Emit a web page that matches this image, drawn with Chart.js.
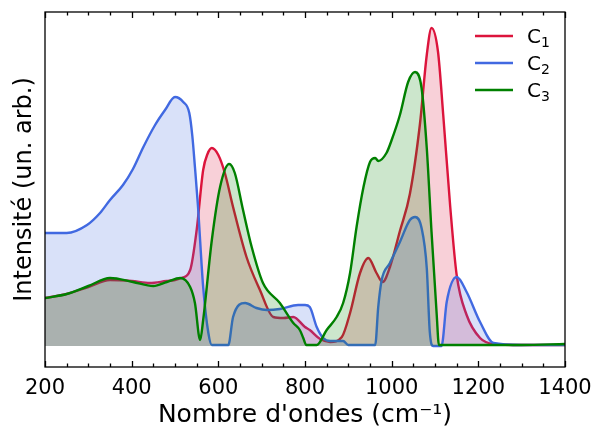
<!DOCTYPE html>
<html>
<head>
<meta charset="utf-8">
<script src="https://cdn.jsdelivr.net/npm/chart.js@4"></script>
<style>
  html, body { margin: 0; padding: 0; background: #fff; }
  #wrap { width: 594px; height: 430px; }
</style>
</head>
<body>
<div id="wrap"><canvas id="spectre"></canvas></div>
<script>
// valeurs (intensité en unités arbitraires)
const c1X = [200, 250, 300, 350, 400, 442, 480, 500, 515, 535, 550, 565, 575, 585, 600, 615, 634, 665, 696, 727, 750, 773, 800, 811, 835, 858, 885, 904, 927, 946, 965, 979, 996, 1019, 1042, 1065, 1081, 1092, 1107, 1119, 1135, 1150, 1173, 1204, 1235, 1300, 1400];
const c1Y = [48, 52, 59, 66, 65, 63, 65, 66, 68, 76, 116, 176, 192, 198, 191, 173, 139, 89, 56, 29, 28, 29, 19, 16, 7, 4, 9, 33, 73, 88, 73, 64, 79, 115, 152, 221, 291, 318, 294, 231, 140, 71, 31, 8, 2, 1, 1];

const c2X = [200, 250, 297, 327, 350, 380, 403, 427, 454, 477, 500, 519, 533, 540, 546, 553, 565, 577, 585, 623, 634, 662, 688, 712, 742, 784, 800, 811, 827, 842, 858, 888, 900, 962, 969, 977, 996, 1019, 1042, 1054, 1069, 1081, 1088, 1096, 1115, 1127, 1150, 1173, 1204, 1235, 1300, 1400];
const c2Y = [113, 113, 121, 133, 146, 161, 177, 199, 221, 236, 249, 244, 233, 210, 179, 140, 59, 13, 1, 1, 29, 43, 38, 36, 37, 41, 41, 39, 19, 8, 5, 5, 1, 1, 39, 66, 83, 104, 126, 129, 118, 78, 14, 0, 0, 44, 69, 54, 24, 3, 1, 1];

const c3X = [200, 250, 300, 350, 403, 450, 481, 512, 535, 546, 558, 565, 585, 604, 625, 638, 657, 677, 703, 742, 773, 788, 796, 803, 827, 850, 873, 888, 904, 919, 935, 950, 962, 969, 988, 1000, 1019, 1038, 1054, 1069, 1081, 1092, 1104, 1109, 1200, 1300, 1400];
const c3Y = [48, 52, 60, 68, 64, 60, 64, 68, 59, 43, 6, 26, 106, 159, 182, 173, 136, 99, 63, 43, 23, 16, 8, 1, 1, 16, 29, 43, 73, 119, 159, 184, 188, 185, 193, 206, 231, 264, 274, 258, 198, 114, 31, 1, 1, 1, 2];

const xTicks = [200, 400, 600, 800, 1000, 1200, 1400];
const seriesNames = ["C1", "C2", "C3"];

function points(xs, ys) {
  return xs.map((x, i) => ({ x: x, y: ys[i] }));
}

// cadre, graduations vers l'intérieur et légende façon matplotlib
const cadre = {
  id: "cadre",
  afterDraw(chart) {
    const ctx = chart.ctx;
    const a = chart.chartArea;
    const sx = chart.scales.x;
    ctx.save();
    ctx.strokeStyle = "#000";
    ctx.lineWidth = 1.3;
    for (let v = 200; v <= 1400; v += 50) {
      const px = Math.round(sx.getPixelForValue(v)) + 0.5;
      const len = v % 200 === 0 ? 6 : 3.5;
      ctx.beginPath();
      ctx.moveTo(px, a.bottom);
      ctx.lineTo(px, a.bottom - len);
      ctx.moveTo(px, a.top);
      ctx.lineTo(px, a.top + len);
      ctx.stroke();
    }
    ctx.strokeRect(a.left, a.top, a.right - a.left, a.bottom - a.top);

    chart.data.datasets.forEach((ds, i) => {
      const y = a.top + 24 + i * 27;
      ctx.strokeStyle = ds.borderColor;
      ctx.lineWidth = 2.4;
      ctx.beginPath();
      ctx.moveTo(a.right - 90, y);
      ctx.lineTo(a.right - 52, y);
      ctx.stroke();
      ctx.fillStyle = "#000";
      ctx.textBaseline = "alphabetic";
      ctx.font = "20px 'DejaVu Sans'";
      ctx.fillText("C", a.right - 38, y + 7);
      const w = ctx.measureText("C").width;
      ctx.font = "14px 'DejaVu Sans'";
      ctx.fillText(seriesNames[i].slice(1), a.right - 38 + w, y + 11);
    });
    ctx.restore();
  }
};

const spectre = new Chart(document.getElementById("spectre"), {
  type: "line",
  data: {
    datasets: [
      {
        label: "C₁",
        data: points(c1X, c1Y),
        borderColor: "#dc143c",
        backgroundColor: "rgba(220, 20, 60, 0.2)",
        fill: "origin",
        order: 3,
      },
      {
        label: "C₂",
        data: points(c2X, c2Y),
        borderColor: "#4169e1",
        backgroundColor: "rgba(65, 105, 225, 0.2)",
        fill: "origin",
        order: 2,
      },
      {
        label: "C₃",
        data: points(c3X, c3Y),
        borderColor: "#008000",
        backgroundColor: "rgba(0, 128, 0, 0.2)",
        fill: "origin",
        order: 1,
      },
    ],
  },
  options: {
    responsive: true,
    maintainAspectRatio: false,
    animation: false,
    layout: { padding: { top: 12, right: 29, left: 0, bottom: 0 } },
    elements: {
      point: { radius: 0 },
      line: { borderWidth: 2.4, cubicInterpolationMode: "monotone" },
    },
    plugins: {
      legend: { display: false },
      tooltip: { enabled: false },
    },
    scales: {
      x: {
        type: "linear",
        min: 200,
        max: 1400,
        afterBuildTicks: (s) => { s.ticks = xTicks.map((v) => ({ value: v })); },
        afterFit: (s) => { s.height = 63; s.paddingLeft = 0; s.paddingRight = 0; },
        grid: { display: false, drawTicks: false },
        border: { display: false },
        ticks: {
          color: "#000",
          padding: 9,
          maxRotation: 0,
          callback: (v) => String(v),
          font: { family: "'DejaVu Sans'", size: 21 },
        },
        title: {
          display: true,
          text: "Nombre d'ondes (cm⁻¹)",
          color: "#000",
          padding: { top: 0, bottom: 0 },
          font: { family: "'DejaVu Sans'", size: 25 },
        },
      },
      y: {
        min: -21,
        max: 334,
        afterFit: (s) => { s.width = 45; s.paddingTop = 0; s.paddingBottom = 0; },
        grid: { display: false, drawTicks: false },
        border: { display: false },
        ticks: { display: false },
        title: {
          display: true,
          text: "Intensité (un. arb.)",
          color: "#000",
          padding: { top: 10, bottom: 0 },
          font: { family: "'DejaVu Sans'", size: 24 },
        },
      },
    },
  },
  plugins: [cadre],
});
</script>
</body>
</html>
